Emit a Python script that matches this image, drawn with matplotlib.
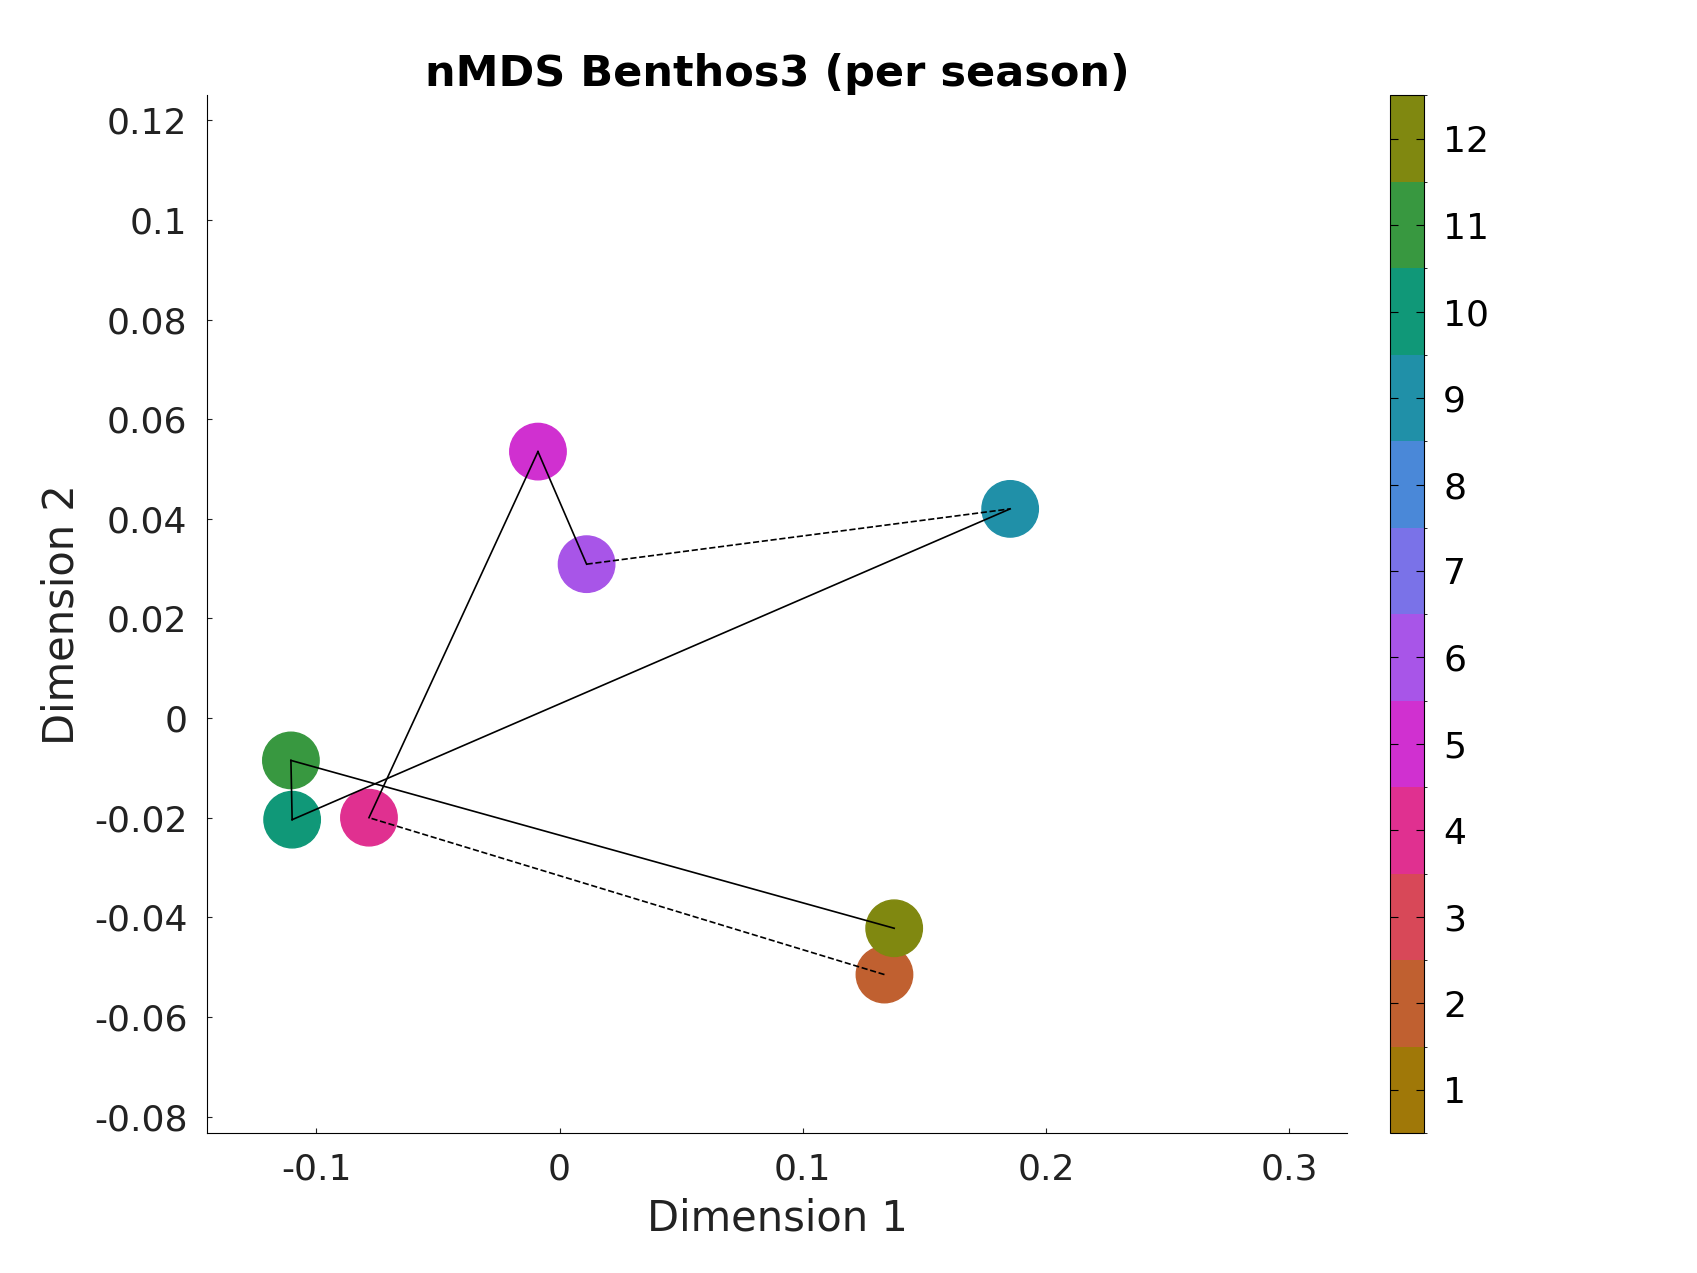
import numpy as np
import matplotlib.pyplot as plt
from matplotlib.colors import ListedColormap, BoundaryNorm

months = [2, 4, 5, 6, 9, 10, 11, 12]
dim1 = [0.1336, -0.0784, -0.0089, 0.0111, 0.1853, -0.1100, -0.1105, 0.1376]
dim2 = [-0.0515, -0.0200, 0.0535, 0.0309, 0.0420, -0.0204, -0.0085, -0.0422]

month_colors = ['#a07808', '#c06030', '#d84858', '#e03090', '#d030d0', '#a855e8',
                '#7a72e8', '#4a88d8', '#2090a8', '#109878', '#389840', '#808810']
cmap = ListedColormap(month_colors)
norm = BoundaryNorm(np.arange(0.5, 13.5, 1), cmap.N)

fig = plt.figure(figsize=(16.97, 12.73), dpi=100)
ax = fig.add_axes([0.122, 0.110, 0.672, 0.815])

# connect consecutive samples, dashed where months are skipped
for i in range(len(months) - 1):
    ls = '-' if months[i + 1] - months[i] == 1 else '--'
    ax.plot(dim1[i:i + 2], dim2[i:i + 2], color='black', lw=1.2, ls=ls, zorder=3)

sc = ax.scatter(dim1, dim2, c=months, cmap=cmap, norm=norm, s=1650, zorder=2)

ax.set_xlim(-0.145, 0.324)
ax.set_ylim(-0.0833, 0.125)
ax.set_xticks([-0.1, 0, 0.1, 0.2, 0.3])
ax.set_xticklabels(['-0.1', '0', '0.1', '0.2', '0.3'])
yt = [-0.08, -0.06, -0.04, -0.02, 0, 0.02, 0.04, 0.06, 0.08, 0.1, 0.12]
ax.set_yticks(yt)
ax.set_yticklabels(['-0.08', '-0.06', '-0.04', '-0.02', '0', '0.02', '0.04',
                    '0.06', '0.08', '0.1', '0.12'])
for s in ['top', 'right']:
    ax.spines[s].set_visible(False)
ax.tick_params(direction='in', labelsize=26, colors='#222222', pad=14)
ax.set_xlabel('Dimension 1', fontsize=30, color='#222222', labelpad=8)
ax.set_ylabel('Dimension 2', fontsize=30, color='#222222', labelpad=8)
ax.set_title('nMDS Benthos3 (per season)', fontsize=31, fontweight='bold', pad=4)

cax = fig.add_axes([0.819, 0.110, 0.020, 0.815])
cb = fig.colorbar(sc, cax=cax, ticks=range(1, 13))
cb.ax.tick_params(labelsize=26, direction='in', length=6, left=True, pad=14)

fig.savefig('out.png', dpi=100)
